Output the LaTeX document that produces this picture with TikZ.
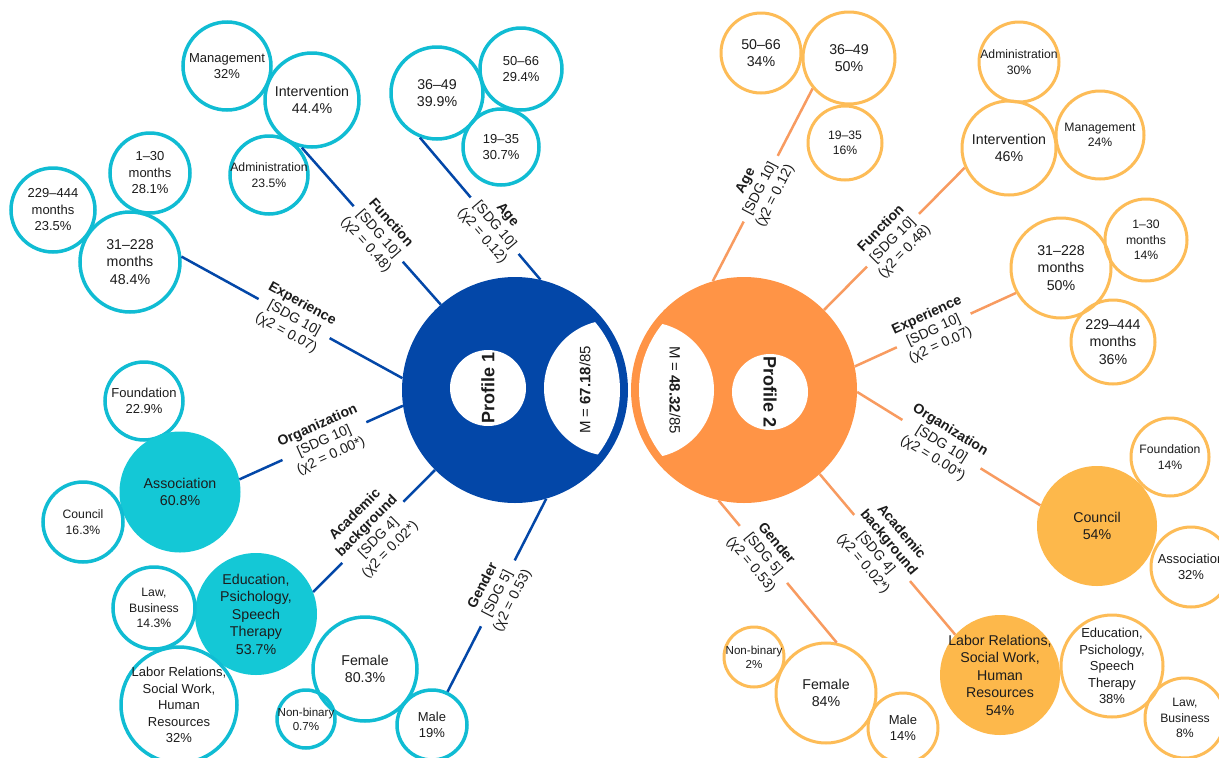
\documentclass[tikz,border=0pt]{standalone}
\usepackage{fontspec}
\setmainfont{Liberation Sans}
\definecolor{profblue}{HTML}{0347A8}
\definecolor{profora}{HTML}{FF9446}
\definecolor{cyanline}{HTML}{10BCD3}
\definecolor{cyanfill}{HTML}{14C8D6}
\definecolor{oraline}{HTML}{FDBC57}
\definecolor{orafill}{HTML}{FDB84B}
\definecolor{oracon}{HTML}{F89B60}
\definecolor{ink}{HTML}{1C1C1C}
\tikzstyle{bsat} = [circle, draw=cyanline, line width=3.5pt, inner sep=0pt]
\tikzstyle{bsatf} = [circle, fill=cyanfill, inner sep=0pt]
\tikzstyle{osat} = [circle, draw=oraline, line width=3pt, inner sep=0pt]
\tikzstyle{osatf} = [circle, fill=orafill, inner sep=0pt]
\tikzstyle{bcon} = [draw=profblue, line width=2.5pt]
\tikzstyle{ocon} = [draw=oracon, line width=2.5pt]
\tikzstyle{varlab} = [align=center, sloped, inner sep=3pt, text=ink, font=\fontsize{14}{16.5}\selectfont]
\tikzstyle{fbig} = [font=\fontsize{14.2}{17.5}\selectfont]
\tikzstyle{fmid} = [font=\fontsize{13}{16.5}\selectfont]
\tikzstyle{fsmall} = [font=\fontsize{12.2}{15.5}\selectfont]
\tikzstyle{ftiny} = [font=\fontsize{11.6}{14}\selectfont]
\tikzset{every label/.style={align=center, inner sep=0pt, text=ink}}

\begin{document}
\begin{tikzpicture}[x=1pt, y=-1pt]
\useasboundingbox (0,0) rectangle (1219,758);
\fill[white] (0,0) rectangle (1219,758);
\clip (0,0) rectangle (1219,758);

\node[circle, fill=profblue, minimum size=226pt, inner sep=0pt] (p1) at (515,390) {};
\begin{scope}
\clip (515,390) circle (105);
\fill[white] (612,388) circle (68);
\end{scope}
\node[circle, fill=white, minimum size=76pt, inner sep=0pt, rotate=90, text=ink, font=\bfseries\fontsize{18}{20}\selectfont] (p1name) at (488,388) {Profile 1};
\node[rotate=90, text=ink, font=\fontsize{15}{18}\selectfont] (p1mean) at (585,390) {M = \textbf{67.18}/85};

\node[circle, fill=profora, minimum size=226pt, inner sep=0pt] (p2) at (744,390) {};
\begin{scope}
\clip (744,390) circle (105);
\fill[white] (646,390) circle (68);
\end{scope}
\node[circle, fill=white, minimum size=76pt, inner sep=0pt, rotate=-90, text=ink, font=\bfseries\fontsize{18}{20}\selectfont] (p2name) at (770,392) {Profile 2};
\node[rotate=-90, text=ink, font=\fontsize{15}{18}\selectfont] (p2mean) at (675,390) {M = \textbf{48.32}/85};

\node[bsat, minimum size=88pt, label={[fmid]center:{Management\\32\%}}] (bManag) at (227,66) {};
\node[bsat, minimum size=94pt, label={[fbig]center:{Intervention\\44.4\%}}] (bInter) at (312,100) {};
\node[bsat, minimum size=78pt, label={[fsmall]center:{Administration\\23.5\%}}] (bAdmin) at (269,175) {};
\node[bsat, minimum size=80pt, label={[fmid]center:{1–30\\months\\28.1\%}}] (bExp1) at (150,173) {};
\node[bsat, minimum size=84pt, label={[fmid]center:{229–444\\months\\23.5\%}}] (bExp229) at (53,210) {};
\node[bsat, minimum size=100pt, label={[fbig]center:{31–228\\months\\48.4\%}}] (bExp31) at (130,262) {};
\node[bsat, minimum size=92pt, label={[fbig]center:{36–49\\39.9\%}}] (b3649) at (437,93) {};
\node[bsat, minimum size=82pt, label={[fmid]center:{50–66\\29.4\%}}] (b5066) at (521,69) {};
\node[bsat, minimum size=76pt, label={[fmid]center:{19–35\\30.7\%}}] (b1935) at (501,147) {};
\node[bsat, minimum size=78pt, label={[fmid]center:{Foundation\\22.9\%}}] (bFound) at (144,401) {};
\node[bsatf, minimum size=121pt, label={[fbig]center:{Association\\60.8\%}}] (bAssoc) at (180,492) {};
\node[bsat, minimum size=80pt, label={[fsmall]center:{Council\\16.3\%}}] (bCounc) at (83,522) {};
\node[bsatf, minimum size=122pt, label={[fbig]center:{Education,\\Psichology,\\Speech\\Therapy\\53.7\%}}] (bEdu) at (256,614) {};
\node[bsat, minimum size=82pt, label={[fsmall]center:{Law,\\Business\\14.3\%}}] (bLaw) at (154,608) {};
\node[bsat, minimum size=116pt, label={[fmid]center:{Labor Relations,\\Social Work,\\Human\\Resources\\32\%}}] (bLabor) at (179,705) {};
\node[bsat, minimum size=104pt, label={[fbig]center:{Female\\80.3\%}}] (bFemale) at (365,669) {};
\node[bsat, minimum size=58pt, label={[ftiny]center:{Non-binary\\0.7\%}}] (bNonbin) at (306,719) {};
\node[bsat, minimum size=70pt, label={[fmid]center:{Male\\19\%}}] (bMale) at (432,725) {};

\node[osat, minimum size=80pt, label={[fbig]center:{50–66\\34\%}}] (o5066) at (761,53) {};
\node[osat, minimum size=92pt, label={[fbig]center:{36–49\\50\%}}] (o3649) at (849,58) {};
\node[osat, minimum size=74pt, label={[fsmall]center:{19–35\\16\%}}] (o1935) at (845,143) {};
\node[osat, minimum size=80pt, label={[fsmall]center:{Administration\\30\%}}] (oAdmin) at (1019,62) {};
\node[osat, minimum size=94pt, label={[fbig]center:{Intervention\\46\%}}] (oInter) at (1009,148) {};
\node[osat, minimum size=88pt, label={[fsmall]center:{Management\\24\%}}] (oManag) at (1100,135) {};
\node[osat, minimum size=100pt, label={[fbig]center:{31–228\\months\\50\%}}] (oExp31) at (1061,268) {};
\node[osat, minimum size=82pt, label={[fsmall]center:{1–30\\months\\14\%}}] (oExp1) at (1146,240) {};
\node[osat, minimum size=84pt, label={[fbig]center:{229–444\\months\\36\%}}] (oExp229) at (1113,342) {};
\node[osat, minimum size=78pt, label={[fsmall]center:{Foundation\\14\%}}] (oFound) at (1170,457) {};
\node[osatf, minimum size=120pt, label={[fbig]center:{Council\\54\%}}] (oCounc) at (1097,526) {};
\node[osat, minimum size=80pt, label={[fmid]center:{Association\\32\%}}] (oAssoc) at (1191,567) {};
\node[osat, minimum size=60pt, label={[ftiny]center:{Non-binary\\2\%}}] (oNonbin) at (754,657) {};
\node[osat, minimum size=100pt, label={[fbig]center:{Female\\84\%}}] (oFemale) at (826,693) {};
\node[osat, minimum size=70pt, label={[fmid]center:{Male\\14\%}}] (oMale) at (903,728) {};
\node[osatf, minimum size=120pt, label={[fbig]center:{Labor Relations,\\Social Work,\\Human\\Resources\\54\%}}] (oLabor) at (1000,675) {};
\node[osat, minimum size=102pt, label={[fmid]center:{Education,\\Psichology,\\Speech\\Therapy\\38\%}}] (oEdu) at (1112,666) {};
\node[osat, minimum size=80pt, label={[fsmall]center:{Law,\\Business\\8\%}}] (oLaw) at (1185,718) {};

\path (b3649.249) -- node[varlab, pos=.62] (bAgeLab) {\textbf{Age}\\{}[SDG 10]\\(χ2 = 0.12)} (p1.77);
\draw[bcon] (b3649.249) -- (bAgeLab) -- (p1.77);
\path (bInter.258) -- node[varlab, pos=.55] (bFunLab) {\textbf{Function}\\{}[SDG 10]\\(χ2 = 0.48)} (p1.131);
\draw[bcon] (bInter.258) -- (bFunLab) -- (p1.131);
\path (bExp31.6) -- node[varlab, pos=.51] (bExpLab) {\textbf{Experience}\\{}[SDG 10]\\(χ2 = 0.07)} (p1.174);
\draw[bcon] (bExp31.6) -- (bExpLab) -- (p1.174);
\path (bAssoc.12) -- node[varlab, pos=.52] (bOrgLab) {\textbf{Organization}\\{}[SDG 10]\\(χ2 = 0.00*)} (p1.188);
\draw[bcon] (bAssoc.12) -- (bOrgLab) -- (p1.188);
\path (bEdu.21) -- node[varlab, pos=.49] (bAcaLab) {\textbf{Academic}\\\textbf{background}\\{}[SDG 4]\\(χ2 = 0.02*)} (p1.225);
\draw[bcon] (bEdu.21) -- (bAcaLab) -- (p1.225);
\path (bMale.65) -- node[varlab, pos=.51] (bGenLab) {\textbf{Gender}\\{}[SDG 5]\\(χ2 = 0.53)} (p1.286);
\draw[bcon] (bMale.65) -- (bGenLab) -- (p1.286);

\path (o3649.220) -- node[varlab, pos=.52] (oAgeLab) {\textbf{Age}\\{}[SDG 10]\\(χ2 = 0.12)} (p2.106);
\draw[ocon] (o3649.220) -- (oAgeLab) -- (p2.106);
\path (oInter.204) -- node[varlab, pos=.51] (oFunLab) {\textbf{Function}\\{}[SDG 10]\\(χ2 = 0.48)} (p2.45);
\draw[ocon] (oInter.204) -- (oFunLab) -- (p2.45);
\path (oExp31.209) -- node[varlab, pos=.51] (oExpLab) {\textbf{Experience}\\{}[SDG 10]\\(χ2 = 0.07)} (p2.12);
\draw[ocon] (oExp31.209) -- (oExpLab) -- (p2.12);
\path (oCounc.160) -- node[varlab, pos=.54] (oOrgLab) {\textbf{Organization}\\{}[SDG 10]\\(χ2 = 0.00*)} (p2.359);
\draw[ocon] (oCounc.160) -- (oOrgLab) -- (p2.359);
\path (oLabor.138) -- node[varlab, pos=.54] (oAcaLab) {\textbf{Academic}\\\textbf{background}\\{}[SDG 4]\\(χ2 = 0.02*)} (p2.312);
\draw[ocon] (oLabor.138) -- (oAcaLab) -- (p2.312);
\path (oFemale.78) -- node[varlab, pos=.62] (oGenLab) {\textbf{Gender}\\{}[SDG 5]\\(χ2 = 0.53)} (p2.257);
\draw[ocon] (oFemale.78) -- (oGenLab) -- (p2.257);

\end{tikzpicture}
\end{document}
